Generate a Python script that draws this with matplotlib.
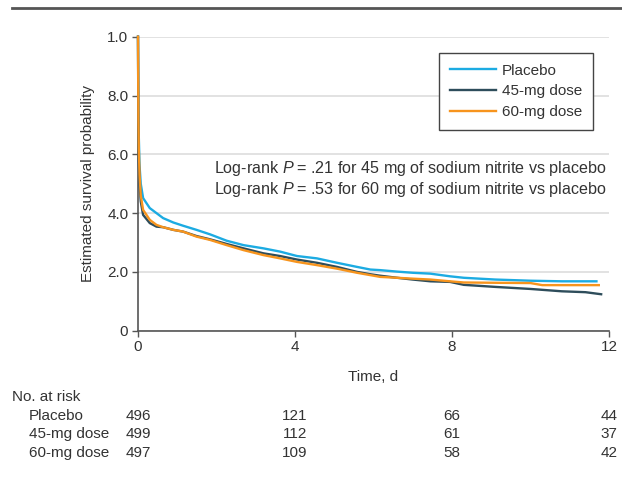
import matplotlib
matplotlib.use('Agg')
import matplotlib.pyplot as plt
from matplotlib.lines import Line2D

plt.rcParams['font.family'] = ['Liberation Sans', 'DejaVu Sans']
plt.rcParams['mathtext.fontset'] = 'custom'
plt.rcParams['mathtext.rm'] = 'Liberation Sans'
plt.rcParams['mathtext.it'] = 'Liberation Sans:italic'

# survival curves (time in days, survival probability)
placebo_t = [0, 0.01, 0.02, 0.04, 0.07, 0.13, 0.3, 0.47, 0.64, 0.9, 1.15, 1.49, 1.83, 2.26, 2.69,
             3.2, 3.62, 4.05, 4.56, 5.07, 5.58, 5.92, 6.17, 6.6, 7.0, 7.45, 7.95, 8.3, 9.1, 10.0, 10.8, 11.68]
placebo_s = [1.0, 0.75, 0.66, 0.56, 0.50, 0.451, 0.417, 0.40, 0.383, 0.368, 0.357, 0.343, 0.328, 0.306, 0.291,
             0.28, 0.269, 0.254, 0.246, 0.231, 0.217, 0.208, 0.206, 0.201, 0.197, 0.194, 0.185, 0.18, 0.174, 0.17, 0.168, 0.168]

dose45_t = [0, 0.01, 0.02, 0.04, 0.07, 0.13, 0.3, 0.47, 0.64, 0.9, 1.15, 1.49, 1.83, 2.26, 2.69,
            3.2, 3.62, 4.05, 4.56, 5.07, 5.58, 5.92, 6.17, 6.6, 7.0, 7.45, 7.95, 8.3, 9.1, 10.0, 10.8, 11.4, 11.8]
dose45_s = [1.0, 0.68, 0.58, 0.50, 0.44, 0.394, 0.366, 0.354, 0.352, 0.343, 0.337, 0.322, 0.311, 0.295, 0.28,
            0.263, 0.254, 0.242, 0.231, 0.217, 0.20, 0.192, 0.187, 0.18, 0.174, 0.168, 0.166, 0.156, 0.149, 0.142, 0.134, 0.131, 0.124]

dose60_t = [0, 0.01, 0.02, 0.04, 0.07, 0.13, 0.3, 0.47, 0.64, 0.9, 1.15, 1.49, 1.83, 2.26, 2.69,
            3.2, 3.62, 4.05, 4.56, 5.07, 5.58, 5.92, 6.17, 6.6, 7.0, 7.45, 7.95, 8.3, 9.1, 10.0, 10.3, 11.74]
dose60_s = [1.0, 0.72, 0.62, 0.53, 0.46, 0.411, 0.377, 0.36, 0.352, 0.343, 0.337, 0.32, 0.309, 0.291, 0.274,
            0.257, 0.246, 0.234, 0.223, 0.211, 0.197, 0.189, 0.183, 0.18, 0.177, 0.174, 0.168, 0.164, 0.163, 0.162, 0.155, 0.155]

groups = ['Placebo', '45-mg dose', '60-mg dose']
colors = ['#1cabe2', '#2e4d5b', '#f7941d']
risk_times = [0, 4, 8, 12]
risk_placebo = [496, 121, 66, 44]
risk_45 = [499, 112, 61, 37]
risk_60 = [497, 109, 58, 42]

y_ticks = [0, 0.2, 0.4, 0.6, 0.8, 1.0]
y_ticklabels = ['0', '2.0', '4.0', '6.0', '8.0', '1.0']
x_ticks = [0, 4, 8, 12]

fig = plt.figure(figsize=(6.22, 4.78), dpi=100)
W, H = 622, 478
ax = fig.add_axes([138 / W, 1 - 330.7 / H, 471 / W, 294 / H])

fs = 11
dark = '#333333'

curves = [(placebo_t, placebo_s), (dose45_t, dose45_s), (dose60_t, dose60_s)]
for (t, s), name, c in zip(curves, groups, colors):
    ax.plot(t, s, color=c, lw=1.7, label=name, clip_on=False, zorder=3)

ax.set_xlim(0, 12)
ax.set_ylim(0, 1.0)
ax.set_xticks(x_ticks)
ax.set_yticks(y_ticks)
ax.set_yticklabels(y_ticklabels)
ax.tick_params(direction='out', length=4, width=1, colors='#555555', labelcolor=dark, labelsize=fs, pad=3)
for side in ['top', 'right']:
    ax.spines[side].set_visible(False)
for side in ['left', 'bottom']:
    ax.spines[side].set_color('#555555')
    ax.spines[side].set_linewidth(1.2)
ax.grid(axis='y', color='#dddddd', lw=1.2, zorder=0)
ax.set_axisbelow(True)

fig.text(88 / W, 1 - 183.7 / H, 'Estimated survival probability', rotation=90,
         ha='center', va='center', fontsize=fs, color=dark)
ax.set_xlabel('Time, d', fontsize=fs, color=dark, labelpad=11)

leg = ax.legend(loc='upper right', bbox_to_anchor=(0.966, 0.945), fontsize=fs, frameon=True,
                fancybox=False, edgecolor='#444444', framealpha=1, handlelength=3.0,
                handletextpad=0.4, labelspacing=0.45, borderpad=0.7, borderaxespad=0)
leg.get_frame().set_linewidth(1.0)
for txt in leg.get_texts():
    txt.set_color(dark)

ax.text(0.996, 0.55, 'Log-rank $P\\;$= .21 for 45 mg of sodium nitrite vs placebo', transform=ax.transAxes,
        ha='right', va='center', fontsize=11.6, color=dark)
ax.text(0.996, 0.4786, 'Log-rank $P\\;$= .53 for 60 mg of sodium nitrite vs placebo', transform=ax.transAxes,
        ha='right', va='center', fontsize=11.6, color=dark)

# number at risk table
fig.text(12 / W, 1 - 396.7 / H, 'No. at risk', ha='left', va='center', fontsize=fs, color=dark)
rows_y = [415.7, 434.2, 452.7]
for name, counts, yp in zip(groups, [risk_placebo, risk_45, risk_60], rows_y):
    fig.text(29 / W, 1 - yp / H, name, ha='left', va='center', fontsize=fs, color=dark)
    for tx, n in zip(risk_times, counts):
        xf = ax.transData.transform((tx, 0))[0] / fig.dpi / fig.get_figwidth()
        fig.text(xf, 1 - yp / H, str(n), ha='center', va='center', fontsize=fs, color=dark)

fig.add_artist(Line2D([12 / W, 1], [1 - 8 / H, 1 - 8 / H], color='#555555', lw=2))

fig.savefig('out.png', dpi=100)
